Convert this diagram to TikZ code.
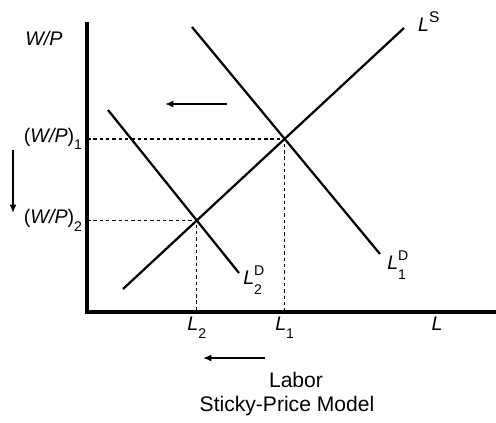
\documentclass[tikz,border=0pt]{standalone}
\usepackage{fontspec}
\setmainfont{Liberation Sans}
\usetikzlibrary{intersections,arrows.meta}

% curve label with stacked super- and subscript
\newcommand{\curvelab}[2]{\textit{L}\rlap{\raisebox{0.45em}{\fontsize{10}{10}\selectfont #1}}\raisebox{-0.55em}{\fontsize{10}{10}\selectfont #2}}
% lowered subscript
\newcommand{\lowsub}[1]{\raisebox{-0.4em}{\fontsize{10}{10}\selectfont #1}}

\begin{document}
\begin{tikzpicture}[
    font=\fontsize{14}{16}\selectfont,
    axis/.style={line width=2.4pt},
    curve/.style={line width=1.6pt},
    guide/.style={line width=1pt, dash pattern=on 2.5pt off 2pt},
    shiftarrow/.style={line width=1.1pt, -{Latex[length=6pt,width=5pt]}}
]
    \useasboundingbox (-2.175,-2.75) rectangle (10.225,7.8);

    % Axes
    \draw[axis] (0,7.25) coordinate (ytop) -- (0,0) coordinate (O) -- (10.225,0) coordinate (xend);
    \node (wp) at (-1.075,6.85) {\textit{W/P}};

    % Labor supply and the two labor demand curves
    \draw[curve, name path=LS] (0.9,0.575) -- (7.925,7.1) coordinate (lsend);
    \draw[curve, name path=LD1] (2.625,7.125) -- (7.325,1.45) coordinate (ld1end);
    \draw[curve, name path=LD2] (0.525,5.05) -- (3.8,0.975) coordinate (ld2end);

    \node[anchor=base west, inner sep=0pt] (ls) at (8.27,7.025) {\textit{L}\raisebox{0.45em}{\fontsize{11}{11}\selectfont S}};
    \node[anchor=base west, inner sep=0pt] (ld1) at (7.5,1.075) {\curvelab{D}{1}};
    \node[anchor=base west, inner sep=0pt] (ld2) at (3.9,0.7) {\curvelab{D}{2}};

    % Equilibria
    \path[name intersections={of=LS and LD1, by=E1}];
    \path[name intersections={of=LS and LD2, by=E2}];

    \draw[guide] (O |- E1) -- (E1) -- (E1 |- O);
    \draw[guide] (O |- E2) -- (E2) -- (E2 |- O);

    \node[left] (wp1) at (O |- E1) {(\textit{W/P})\lowsub{1}};
    \node[left] (wp2) at (O |- E2) {(\textit{W/P})\lowsub{2}};
    \node[below] (l1) at (E1 |- O) {\textit{L}\lowsub{1}};
    \node[below] (l2) at (E2 |- O) {\textit{L}\lowsub{2}};
    \node[below] (l) at (8.75,0) {\textit{L}};

    % Shift arrows
    \draw[shiftarrow] (3.5,5.2) -- (1.95,5.2);
    \draw[shiftarrow] (-1.85,4.05) -- (-1.85,2.475);
    \draw[shiftarrow] (4.45,-1.15) -- (2.9,-1.15);

    % Caption
    \node[font=\fontsize{15}{17}\selectfont] (xlabel) at (5.225,-1.7) {Labor};
    \node[font=\fontsize{15}{17}\selectfont] (title) at (5.0,-2.35) {Sticky-Price Model};
\end{tikzpicture}
\end{document}
